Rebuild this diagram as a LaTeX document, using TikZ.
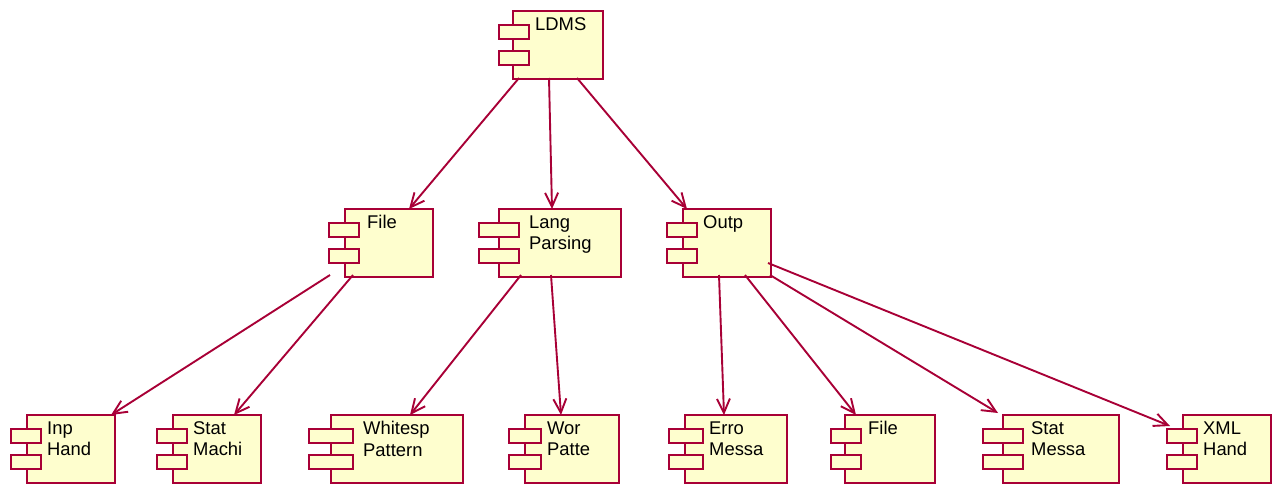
\documentclass[tikz,border=0pt]{standalone}
\usepackage{fontspec}
\setmainfont{Liberation Sans}
\usepackage[usenames]{xcolor}
\usetikzlibrary{arrows.meta}
\definecolor{compline}{HTML}{A80036}
\definecolor{compfill}{HTML}{FEFECE}
\tikzstyle{comp} = [rectangle, draw = compline, fill = compfill, line width=1.9pt, anchor=north west, outer sep=0pt, inner sep=0pt, minimum height=68pt]
\tikzstyle{tab} = [comp, minimum height=14pt]
\tikzstyle{comptext} = [anchor=north west, inner sep=0pt, align=left, font=\fontsize{18.4}{21.5}\selectfont]
\tikzstyle{link} = [->, draw = compline, line width=1.9pt]
% name, x, y, width, tab x, tab width, text x, text
\newcommand{\comp}[8]{
\node (#1) [comp, minimum width=#4pt] at (#2,#3) {};
\node (#1tabA) [tab, minimum width=#6pt] at (#5,#3+14) {};
\node (#1tabB) [tab, minimum width=#6pt] at (#5,#3+40) {};
\node (#1text) [comptext] at (#7,#3+6.3) {#8};
}
\begin{document}
\begin{tikzpicture}[x=1pt, y=-1pt, >={Straight Barb[length=14pt, width=13pt]}]
\useasboundingbox (0,0) rectangle (1281,483);
\comp{ldms}{513}{11}{90}{499}{30}{535}{LDMS}
\comp{file}{345}{209}{88}{329}{30}{367}{File}
\comp{lang}{499}{209}{122}{479}{40}{529}{Lang\\Parsing}
\comp{outp}{683}{209}{88}{667}{30}{703}{Outp}
\comp{inp}{27}{415}{88}{11}{30}{47}{Inp\\Hand}
\comp{stat}{173}{415}{88}{157}{30}{193}{Stat\\Machi}
\comp{white}{331}{415}{132}{309}{44}{363}{Whitesp\\Pattern}
\comp{word}{525}{415}{94}{509}{32}{547}{Wor\\Patte}
\comp{erro}{685}{415}{102}{669}{34}{709}{Erro\\Messa}
\comp{ofile}{845}{415}{90}{831}{30}{868}{File}
\comp{smsg}{1003}{415}{116}{983}{40}{1031}{Stat\\Messa}
\comp{xml}{1183}{415}{88}{1167}{30}{1203}{XML\\Hand}
\draw [link] ([shift={(6,-1)}]ldms.south west) -- ([shift={(64,0)}]file.north west);
\draw [link] ([shift={(36,-1)}]ldms.south west) -- ([shift={(53,0)}]lang.north west);
\draw [link] ([shift={(64,-1)}]ldms.south west) -- ([shift={(4,0)}]outp.north west);
\draw [link] ([shift={(-15,-2)}]file.south west) -- ([shift={(84,0)}]inp.north west);
\draw [link] ([shift={(8,-2)}]file.south west) -- ([shift={(61,0)}]stat.north west);
\draw [link] ([shift={(22,-2)}]lang.south west) -- ([shift={(79,0)}]white.north west);
\draw [link] ([shift={(52,-2)}]lang.south west) -- ([shift={(36,0)}]word.north west);
\draw [link] ([shift={(36,-2)}]outp.south west) -- ([shift={(39,0)}]erro.north west);
\draw [link] ([shift={(62,-2)}]outp.south west) -- ([shift={(11,0)}]ofile.north west);
\draw [link] ([shift={(87,-2)}]outp.south west) -- ([shift={(-5,-2)}]smsg.north west);
\draw [link] ([shift={(85,-14)}]outp.south west) -- ([shift={(-13,11)}]xml.north west);
\end{tikzpicture}
\end{document}
